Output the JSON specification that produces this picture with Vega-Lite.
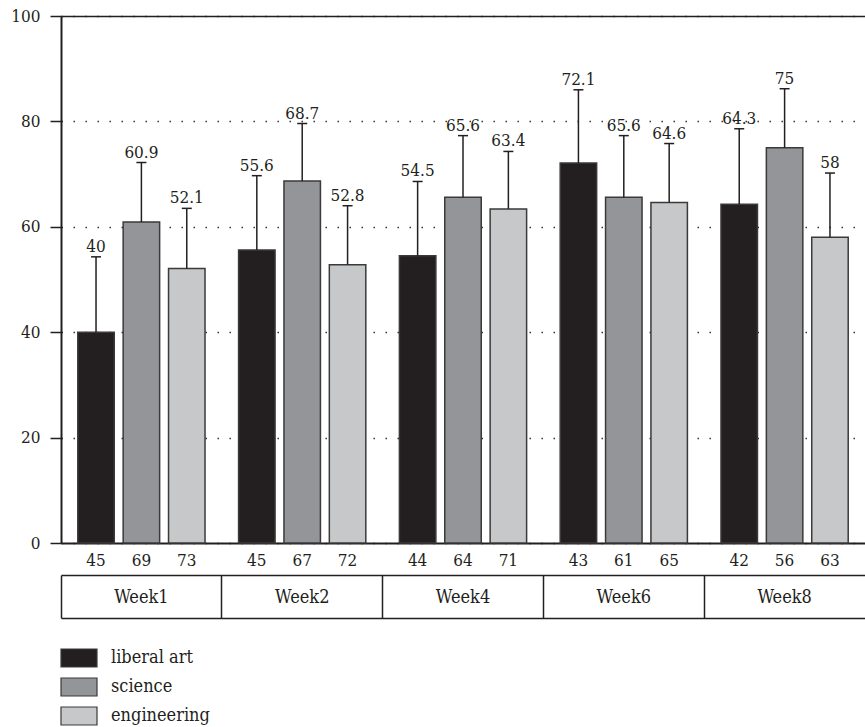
{
  "$schema": "https://vega.github.io/schema/vega-lite/v6.json",
  "width": 804,
  "height": 527,
  "autosize": {"type": "none"},
  "padding": {"left": 61, "top": 16, "right": 0, "bottom": 184},
  "background": "white",
  "config": {"view": {"stroke": null}, "font": "DejaVu Serif Condensed, DejaVu Serif", "axis": {"labelFont": "DejaVu Serif Condensed, DejaVu Serif"}, "legend": {"labelFont": "DejaVu Serif Condensed, DejaVu Serif"}, "text": {"font": "DejaVu Serif Condensed, DejaVu Serif"}},
  "data": {"values": [
    {"week": "Week1", "subject": "liberal art", "mean": 40, "upper": 54.3, "n": 45},
    {"week": "Week1", "subject": "science", "mean": 60.9, "upper": 72.2, "n": 69},
    {"week": "Week1", "subject": "engineering", "mean": 52.1, "upper": 63.5, "n": 73},
    {"week": "Week2", "subject": "liberal art", "mean": 55.6, "upper": 69.7, "n": 45},
    {"week": "Week2", "subject": "science", "mean": 68.7, "upper": 79.6, "n": 67},
    {"week": "Week2", "subject": "engineering", "mean": 52.8, "upper": 64.0, "n": 72},
    {"week": "Week4", "subject": "liberal art", "mean": 54.5, "upper": 68.6, "n": 44},
    {"week": "Week4", "subject": "science", "mean": 65.6, "upper": 77.3, "n": 64},
    {"week": "Week4", "subject": "engineering", "mean": 63.4, "upper": 74.3, "n": 71},
    {"week": "Week6", "subject": "liberal art", "mean": 72.1, "upper": 86.0, "n": 43},
    {"week": "Week6", "subject": "science", "mean": 65.6, "upper": 77.3, "n": 61},
    {"week": "Week6", "subject": "engineering", "mean": 64.6, "upper": 75.8, "n": 65},
    {"week": "Week8", "subject": "liberal art", "mean": 64.3, "upper": 78.6, "n": 42},
    {"week": "Week8", "subject": "science", "mean": 75, "upper": 86.2, "n": 56},
    {"week": "Week8", "subject": "engineering", "mean": 58, "upper": 70.2, "n": 63}
  ]},
  "resolve": {"axis": {"x": "independent", "y": "independent"}},
  "layer": [
    {
      "mark": {"type": "bar", "stroke": "#3a3a3a", "strokeWidth": 1.5},
      "encoding": {
        "x": {"field": "week", "type": "nominal",
          "scale": {"domain": ["Week1", "Week2", "Week4", "Week6", "Week8"], "paddingInner": 0, "paddingOuter": 0},
          "axis": {"orient": "bottom", "title": null, "labels": false, "ticks": false, "domain": true, "domainColor": "#231f20", "domainWidth": 2, "grid": false}},
        "xOffset": {"field": "subject", "type": "nominal",
          "scale": {"domain": ["liberal art", "science", "engineering"], "paddingInner": 0.196, "paddingOuter": 0.37}},
        "y": {"field": "mean", "type": "quantitative",
          "scale": {"domain": [0, 100], "nice": false},
          "axis": {"title": null, "values": [0, 20, 40, 60, 80, 100], "tickSize": 11, "tickColor": "#231f20", "tickWidth": 1.5,
            "domainColor": "#231f20", "domainWidth": 2, "labelPadding": 10, "labelFontSize": 17, "labelColor": "#231f20",
            "grid": true, "gridDash": [1.5, 10.5], "gridColor": "#333333", "gridWidth": 1.3}},
        "color": {"field": "subject", "type": "nominal",
          "scale": {"domain": ["liberal art", "science", "engineering"], "range": ["#231f20", "#939598", "#c7c8ca"]},
          "legend": {"orient": "none", "legendX": 8, "legendY": 632, "title": null, "direction": "vertical",
            "padding": 0, "rowPadding": 5, "labelFontSize": 18, "labelColor": "#231f20",
            "labelOffset": 22, "symbolType": "M-2,-1H2V1H-2Z", "symbolSize": 324,
            "symbolStrokeColor": "#3a3a3a", "symbolStrokeWidth": 1.2, "symbolOpacity": 1}}
      }
    },
    {
      "mark": {"type": "rule", "color": "#231f20", "strokeWidth": 1.5},
      "encoding": {
        "x": {"field": "week", "type": "nominal",
          "axis": {"orient": "bottom", "offset": 32, "title": null, "bandPosition": 0,
            "tickSize": 43, "tickColor": "#231f20", "tickWidth": 1.5, "domainColor": "#231f20", "domainWidth": 1.5,
            "labelAngle": 0, "labelBaseline": "alphabetic", "labelPadding": -16, "labelFontSize": 18,
            "labelColor": "#231f20", "grid": false}},
        "xOffset": {"field": "subject", "type": "nominal"},
        "y": {"field": "mean", "type": "quantitative",
          "axis": {"title": null, "values": [10, 30, 50, 70, 90], "tickSize": 4, "tickColor": "#231f20", "tickWidth": 1.5,
            "labels": false, "domain": false, "grid": false}},
        "y2": {"field": "upper"}
      }
    },
    {
      "mark": {"type": "tick", "orient": "horizontal", "size": 10, "thickness": 1.5, "color": "#231f20", "opacity": 1},
      "encoding": {
        "x": {"field": "week", "type": "nominal",
          "axis": {"orient": "bottom", "offset": 75, "title": null, "labels": false, "ticks": false, "grid": false,
            "domainColor": "#231f20", "domainWidth": 1.5}},
        "xOffset": {"field": "subject", "type": "nominal"},
        "y": {"field": "upper", "type": "quantitative", "axis": null}
      }
    },
    {
      "mark": {"type": "text", "baseline": "alphabetic", "dy": -5, "fontSize": 17, "color": "#231f20"},
      "encoding": {
        "x": {"field": "week", "type": "nominal",
          "axis": {"orient": "top", "title": null, "labels": false, "ticks": false, "grid": false,
            "domainColor": "#231f20", "domainWidth": 1.5}},
        "xOffset": {"field": "subject", "type": "nominal"},
        "y": {"field": "upper", "type": "quantitative", "axis": null},
        "text": {"field": "mean", "type": "quantitative"}
      }
    },
    {
      "mark": {"type": "text", "baseline": "alphabetic", "dy": 23, "fontSize": 17, "color": "#231f20"},
      "encoding": {
        "x": {"field": "week", "type": "nominal", "axis": null},
        "xOffset": {"field": "subject", "type": "nominal"},
        "y": {"datum": 0, "type": "quantitative", "axis": null},
        "text": {"field": "n", "type": "quantitative"}
      }
    }
  ]
}
